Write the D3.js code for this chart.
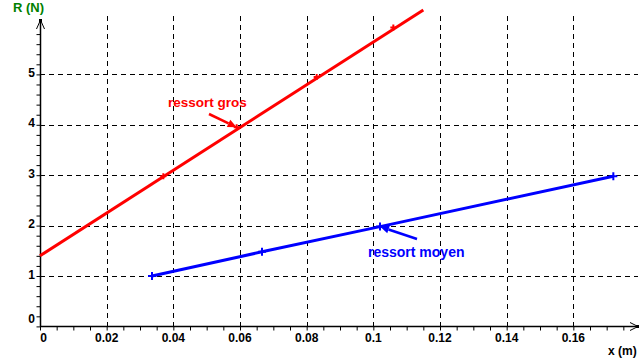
<!DOCTYPE html>
<html>
<head>
<meta charset="utf-8">
<script src="https://cdn.jsdelivr.net/npm/d3@7"></script>
<style>
html,body{margin:0;padding:0;background:#fff;}
svg{display:block;font-family:"Liberation Sans",Arial,sans-serif;font-weight:bold;}
</style>
</head>
<body>
<svg id="c" width="640" height="360"></svg>
<script>
// ---- data ----
const grosX = [0.037, 0.059, 0.083, 0.106];
const grosR = [2.98, 3.95, 4.95, 5.93];
const grosFitX = [0, 0.115];
const grosFitR = [1.40, 6.28];

const moyenX = [0.0336, 0.0666, 0.102, 0.172];
const moyenR = [1.0, 1.48, 1.98, 2.98];

const xTickValues = [0, 0.02, 0.04, 0.06, 0.08, 0.1, 0.12, 0.14, 0.16];
const xTickLabels = ["0", "0.02", "0.04", "0.06", "0.08", "0.1", "0.12", "0.14", "0.16"];
const yTickValues = [0, 1, 2, 3, 4, 5];
const yTickLabels = ["0", "1", "2", "3", "4", "5"];
const xGrid = [0.02, 0.04, 0.06, 0.08, 0.1, 0.12, 0.14, 0.16];
const yGrid = [1, 2, 3, 4, 5];

const seriesNames = ["ressort gros", "ressort moyen"];
const xTitle = "x (m)";
const yTitle = "R (N)";

// ---- scales ----
const svg = d3.select("#c");
const x = d3.scaleLinear().domain([0, 0.18]).range([40, 640]);
const y = d3.scaleLinear().domain([0, 6]).range([326.4, 24]);
const X0 = x(0), Y0 = y(0);

// grid
const g = svg.append("g");
g.selectAll(".vg").data(xGrid).enter().append("line")
  .attr("x1", d => Math.round(x(d)) + 0.5).attr("x2", d => Math.round(x(d)) + 0.5)
  .attr("y1", 16).attr("y2", Y0)
  .attr("stroke", "#000").attr("stroke-width", 1).attr("stroke-dasharray", "5,4");
g.selectAll(".hg").data(yGrid).enter().append("line")
  .attr("x1", X0).attr("x2", 638)
  .attr("y1", d => Math.round(y(d)) + 0.5).attr("y2", d => Math.round(y(d)) + 0.5)
  .attr("stroke", "#000").attr("stroke-width", 1).attr("stroke-dasharray", "5,4");

// minor ticks via axes
const minorX = d3.range(0, 0.1751, 0.005);
const minorY = d3.range(0, 5.81, 0.2);
const ax = svg.append("g").attr("transform", `translate(0,${Math.round(Y0)+0.5})`)
  .call(d3.axisBottom(x).tickValues(minorX).tickSize(4).tickFormat("").tickSizeOuter(0));
ax.select(".domain").remove();
ax.selectAll("line").attr("stroke", "#000");
const ay = svg.append("g").attr("transform", `translate(${X0+0.5},0)`)
  .call(d3.axisLeft(y).tickValues(minorY).tickSize(4).tickFormat("").tickSizeOuter(0));
ay.select(".domain").remove();
ay.selectAll("line").attr("stroke", "#000");

// axis lines
svg.append("line").attr("x1", X0).attr("x2", 638).attr("y1", Math.round(Y0)+0.5).attr("y2", Math.round(Y0)+0.5)
  .attr("stroke", "#000").attr("stroke-width", 1.5);
svg.append("line").attr("x1", X0+0.5).attr("x2", X0+0.5).attr("y1", 20).attr("y2", Y0)
  .attr("stroke", "#000").attr("stroke-width", 1.5);
// arrowheads
svg.append("path").attr("d", `M630,${Math.round(Y0)-3.5} L638,${Math.round(Y0)+0.5} L630,${Math.round(Y0)+4.5}`)
  .attr("fill", "none").attr("stroke", "#000");
svg.append("path").attr("d", `M36.5,29 L40.5,20 L44.5,29`).attr("fill", "none").attr("stroke", "#000");
svg.append("rect").attr("x", 39).attr("y", 19).attr("width", 3).attr("height", 3).attr("fill", "#000");
svg.append("rect").attr("x", 636).attr("y", Math.round(Y0)-1).attr("width", 3).attr("height", 3).attr("fill", "#000");

// tick labels
svg.selectAll(".xl").data(xTickValues).enter().append("text")
  .attr("x", (d, i) => x(d) + (i === 0 ? 3.5 : 0)).attr("y", 342)
  .attr("text-anchor", "middle").attr("font-size", 12).attr("fill", "#000")
  .text((d, i) => xTickLabels[i]);
svg.selectAll(".yl").data(yTickValues).enter().append("text")
  .attr("x", 35).attr("y", (d, i) => i === 0 ? 323 : y(d) + 2.5)
  .attr("text-anchor", "end").attr("font-size", 12).attr("fill", "#000")
  .text((d, i) => yTickLabels[i]);

// titles
svg.append("text").attr("x", 13).attr("y", 12).attr("font-size", 13).attr("fill", "#008000").text(yTitle);
svg.append("text").attr("x", 608).attr("y", 355).attr("font-size", 12).attr("fill", "#000").text(xTitle);

// series
const line = d3.line().x(d => x(d[0])).y(d => y(d[1]));
svg.append("path").datum(grosFitX.map((v, i) => [v, grosFitR[i]]))
  .attr("d", line).attr("fill", "none").attr("stroke", "#ff0000").attr("stroke-width", 3);
svg.append("path").datum(moyenX.map((v, i) => [v, moyenR[i]]))
  .attr("d", line).attr("fill", "none").attr("stroke", "#0000ff").attr("stroke-width", 3);

function plus(sel, xs, ys, color, s) {
  sel.selectAll(null).data(xs).enter().append("path")
    .attr("d", (d, i) => {
      const px = x(d), py = y(ys[i]);
      return `M${px - s},${py} L${px + s},${py} M${px},${py - s} L${px},${py + s}`;
    })
    .attr("stroke", color).attr("stroke-width", 2).attr("fill", "none");
}
plus(svg.append("g"), grosX, grosR, "#ff0000", 3);
plus(svg.append("g"), moyenX, moyenR, "#0000ff", 4);

// annotations
function annot(px, py, tx, ty, color) {
  const ang = Math.atan2(py - ty, px - tx);
  const L = 9, W = 4;
  const bx = px - L * Math.cos(ang), by = py - L * Math.sin(ang);
  svg.append("line").attr("x1", tx).attr("y1", ty).attr("x2", bx).attr("y2", by)
    .attr("stroke", color).attr("stroke-width", 2.5);
  svg.append("path").attr("d",
    `M${px},${py} L${bx + W * Math.sin(ang)},${by - W * Math.cos(ang)} L${bx - W * Math.sin(ang)},${by + W * Math.cos(ang)} Z`)
    .attr("fill", color);
}
annot(x(grosX[1]), y(grosR[1]), 209, 114, "#ff0000");
annot(x(moyenX[2]), y(moyenR[2]), 417, 239, "#0000ff");
svg.append("text").attr("x", 168).attr("y", 107).attr("font-size", 13.5).attr("fill", "#ff0000").text(seriesNames[0]);
svg.append("text").attr("x", 368).attr("y", 257).attr("font-size", 14).attr("fill", "#0000ff").text(seriesNames[1]);
</script>
</body>
</html>
